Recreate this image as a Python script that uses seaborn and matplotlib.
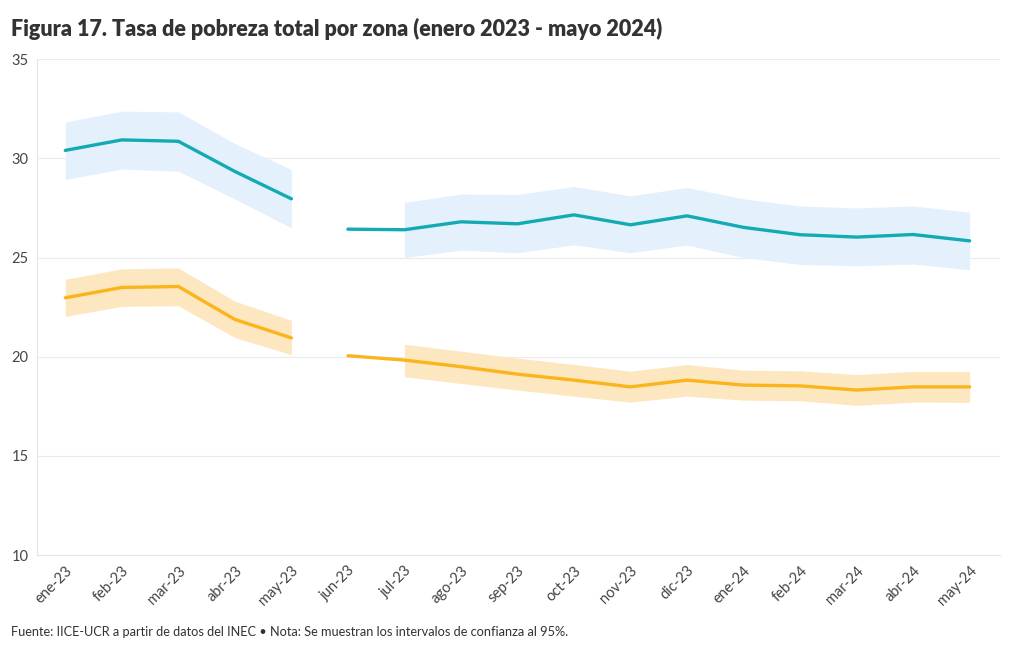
import pandas as pd
import numpy as np
import seaborn as sns
import matplotlib.pyplot as plt

# Datos
meses = ['ene-23', 'feb-23', 'mar-23', 'abr-23', 'may-23', 'jun-23', 'jul-23', 'ago-23',
         'sep-23', 'oct-23', 'nov-23', 'dic-23', 'ene-24', 'feb-24', 'mar-24', 'abr-24', 'may-24']
tramo = [1, 1, 1, 1, 1, 2, 2, 2, 2, 2, 2, 2, 2, 2, 2, 2, 2]

teal = [30.40, 30.93, 30.86, 29.34, 27.96, 26.43, 26.40, 26.80, 26.70, 27.15, 26.65, 27.10,
        26.52, 26.15, 26.03, 26.16, 25.84]
teal_sup = [31.83, 32.38, 32.34, 30.75, 29.44, np.nan, 27.78, 28.20, 28.18, 28.58, 28.11, 28.53,
            27.96, 27.60, 27.50, 27.60, 27.29]
teal_inf = [28.93, 29.46, 29.35, 27.95, 26.49, np.nan, 25.00, 25.37, 25.24, 25.64, 25.24, 25.63,
            25.00, 24.65, 24.58, 24.67, 24.38]

amarillo = [22.97, 23.49, 23.54, 21.88, 20.95, 20.05, 19.83, 19.50, 19.12, 18.82, 18.48, 18.82,
            18.57, 18.53, 18.32, 18.48, 18.48]
amarillo_sup = [23.90, 24.43, 24.47, 22.80, 21.83, np.nan, 20.63, 20.28, 19.93, 19.61, 19.27, 19.61,
                19.32, 19.29, 19.10, 19.26, 19.26]
amarillo_inf = [22.03, 22.54, 22.57, 20.97, 20.10, np.nan, 18.99, 18.65, 18.32, 18.01, 17.71, 18.01,
                17.81, 17.78, 17.55, 17.71, 17.70]

df = pd.DataFrame({'x': range(len(meses)), 'tramo': tramo,
                   'teal': teal, 'teal_sup': teal_sup, 'teal_inf': teal_inf,
                   'amarillo': amarillo, 'amarillo_sup': amarillo_sup, 'amarillo_inf': amarillo_inf})

sns.set_theme(style='white')
plt.rcParams['font.family'] = ['Lato', 'DejaVu Sans']

fig = plt.figure(figsize=(10.2, 6.5), dpi=100)
ax = fig.add_axes([0.0363, 0.146, 0.9437, 0.763])

# banda de confianza + linea, por tramo (mayo-junio 2023 no se une)
series = [('teal', '#14AAB3', '#E5F0FD'), ('amarillo', '#FBB41C', '#FDE7C0')]
for col, color, relleno in series:
    for t, seg in df.groupby('tramo'):
        banda = seg.dropna(subset=[col + '_sup'])
        ax.fill_between(banda['x'], banda[col + '_inf'], banda[col + '_sup'],
                        color=relleno, linewidth=0, zorder=1)
        sns.lineplot(data=seg, x='x', y=col, color=color, linewidth=2.4, ax=ax, zorder=3)

ax.set_xlim(-0.5, 16.53)
ax.set_ylim(10, 35)
ax.set_yticks([10, 15, 20, 25, 30, 35])
ax.set_xticks(range(len(meses)))
ax.set_xticklabels(meses, rotation=45, ha='right', rotation_mode='anchor')
ax.set_xlabel('')
ax.set_ylabel('')
ax.grid(axis='y', color='#EBEBEB', linewidth=0.8, zorder=0)
ax.set_axisbelow(True)
for s in ['top', 'right']:
    ax.spines[s].set_visible(False)
for s in ['left', 'bottom']:
    ax.spines[s].set_color('#E6E6E6')
    ax.spines[s].set_linewidth(0.8)
ax.tick_params(axis='both', colors='#E0E0E0', labelcolor='#444444', labelsize=10.5,
               length=4, width=0.8, pad=2)

fig.text(0.011, 0.955, 'Figura 17. Tasa de pobreza total por zona (enero 2023 - mayo 2024)',
         fontsize=15.5, fontweight='heavy', color='#333333', va='center')
fig.text(0.011, 0.028, 'Fuente: IICE-UCR a partir de datos del INEC \u2022 Nota: Se muestran los intervalos de confianza al 95%.',
         fontsize=9.2, color='#333333', va='center')

plt.savefig('out.png', dpi=100)
